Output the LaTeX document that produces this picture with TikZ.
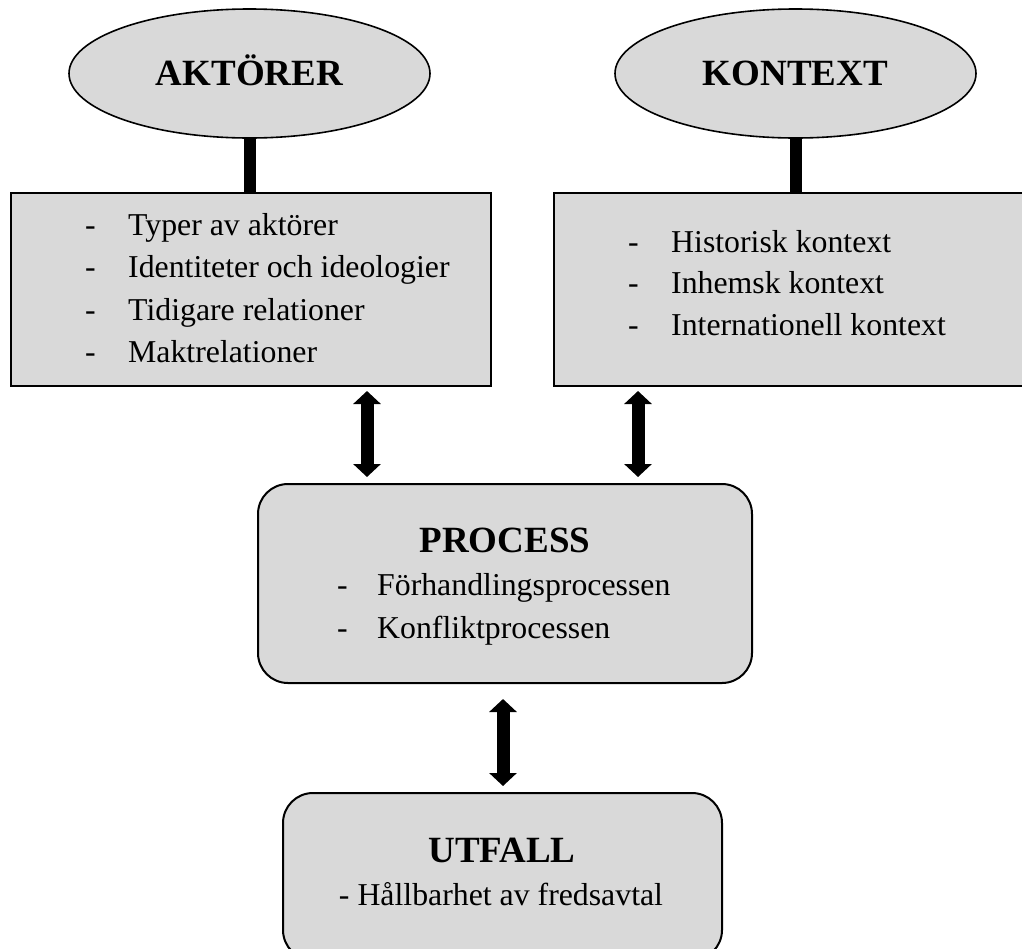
\documentclass[tikz,border=0pt]{standalone}
\usepackage{fontspec}
\setmainfont{Liberation Serif}
\usetikzlibrary{arrows.meta,shapes.geometric}
\definecolor{boxgray}{RGB}{217,217,217}
\tikzset{
  sqbox/.style={draw=black, line width=2pt, fill=boxgray, rectangle, inner sep=0pt},
  rndbox/.style={draw=black, line width=2pt, fill=boxgray, rectangle, rounded corners=30pt, inner sep=0pt},
  oval/.style={draw=black, line width=1.6pt, fill=boxgray, ellipse, inner sep=0pt},
  title/.style={font=\fontsize{37}{40}\selectfont\bfseries, inner sep=0pt, anchor=base},
  itemtxt/.style={font=\fontsize{31.8}{38}\selectfont, inner sep=0pt, anchor=base west},
  centtxt/.style={font=\fontsize{31.8}{38}\selectfont, inner sep=0pt, anchor=base},
  stem/.style={line width=12pt},
  bigarrow/.style={line width=13pt, {Triangle[width=27pt,length=13pt]}-{Triangle[width=27pt,length=13pt]}},
}
\newcommand{\dashitem}[1]{\makebox[43pt][l]{-}#1}
\begin{document}
\begin{tikzpicture}[x=1pt,y=-1pt]
\useasboundingbox (0,0) rectangle (1022,948);
\fill[white] (0,0) rectangle (1022,948);
\clip (0,0) rectangle (1022,948);

% ellipses
\node[oval, minimum width=361pt, minimum height=129pt] (ae) at (249.5,73.5) {};
\node[oval, minimum width=361pt, minimum height=129pt] (ke) at (795.5,73.5) {};
\node[title] (aet) at (249.5,85) {AKTÖRER};
\node[title] (ket) at (795.5,85) {KONTEXT};

% top boxes
\node[sqbox, minimum width=480pt, minimum height=193pt] (ab) at (251,289.5) {};
\node[sqbox, minimum width=476pt, minimum height=193pt] (kb) at (792,289.5) {};

% stems
\draw[stem] (ae.south) -- (ae.south |- ab.north);
\draw[stem] (ke.south) -- (ke.south |- kb.north);

% left box text
\node[itemtxt] (a1) at (85,235) {\dashitem{Typer av aktörer}};
\node[itemtxt] (a2) at (85,277) {\dashitem{Identiteter och ideologier}};
\node[itemtxt] (a3) at (85,320) {\dashitem{Tidigare relationer}};
\node[itemtxt] (a4) at (85,362) {\dashitem{Maktrelationer}};

% right box text
\node[itemtxt] (k1) at (628,252) {\dashitem{Historisk kontext}};
\node[itemtxt] (k2) at (628,293) {\dashitem{Inhemsk kontext}};
\node[itemtxt] (k3) at (628,335) {\dashitem{Internationell kontext}};

% process box
\node[rndbox, minimum width=494pt, minimum height=199pt] (pb) at (505,583.5) {};
\node[title] (pt) at (505,552) {PROCESS};
\node[itemtxt] (p1) at (337,595) {\makebox[40pt][l]{-}Förhandlingsprocessen};
\node[itemtxt] (p2) at (337,638) {\makebox[40pt][l]{-}Konfliktprocessen};

% outcome box
\node[rndbox, minimum width=439pt, minimum height=167pt] (ub) at (502.5,876.5) {};
\node[title] (ut) at (502,862) {UTFALL};
\node[centtxt] (u1) at (501,905) {- Hållbarhet av fredsavtal};

% arrows
\coordinate (la) at (367,0);
\coordinate (ra) at (638,0);
\coordinate (ma) at (503,0);
\draw[bigarrow, shorten <=4pt, shorten >=6pt] (ab.south -| la) -- (pb.north -| la);
\draw[bigarrow, shorten <=4pt, shorten >=6pt] (kb.south -| ra) -- (pb.north -| ra);
\draw[bigarrow, shorten <=15pt, shorten >=6pt] (pb.south -| ma) -- (ub.north -| ma);
\end{tikzpicture}
\end{document}
